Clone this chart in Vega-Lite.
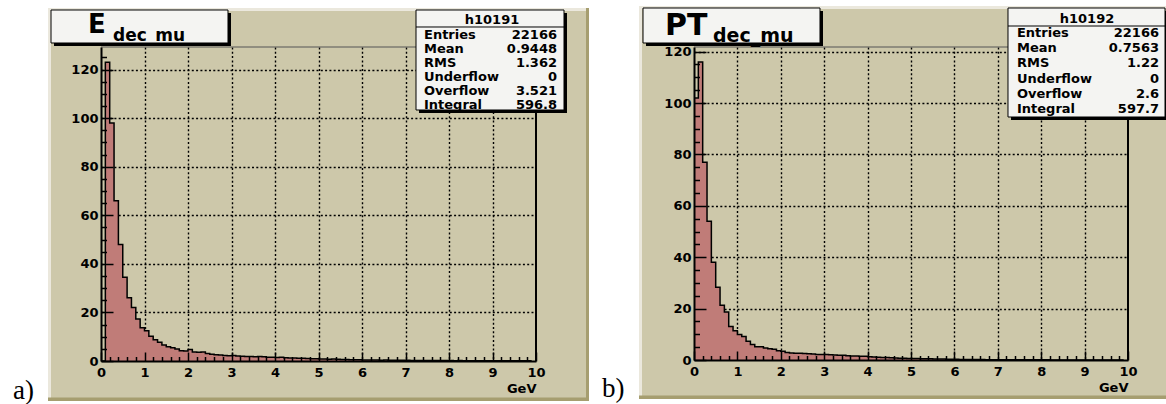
{
"$schema":"https://vega.github.io/schema/vega-lite/v6.json",
"background":"white",
"padding":{"left":12,"right":0,"top":6,"bottom":0},
"spacing":12,
"config":{"view":{"stroke":null}},
"datasets":{
"E":[{"lo":0,"n":0},{"lo":0.1,"n":123},{"lo":0.2,"n":98},{"lo":0.3,"n":66},{"lo":0.4,"n":48},{"lo":0.5,"n":34.5},{"lo":0.6,"n":26},{"lo":0.7,"n":22},{"lo":0.8,"n":17.3},{"lo":0.9,"n":13.7},
{"lo":1.0,"n":12.5},{"lo":1.1,"n":10.2},{"lo":1.2,"n":8.8},{"lo":1.3,"n":7.7},{"lo":1.4,"n":6.6},{"lo":1.5,"n":5.9},{"lo":1.6,"n":5.5},{"lo":1.7,"n":4.9},{"lo":1.8,"n":4.2},{"lo":1.9,"n":4.1},
{"lo":2.0,"n":4.7},{"lo":2.1,"n":3.7},{"lo":2.2,"n":3.6},{"lo":2.3,"n":3.7},{"lo":2.4,"n":3.1},{"lo":2.5,"n":2.8},{"lo":2.6,"n":2.6},{"lo":2.7,"n":2.5},{"lo":2.8,"n":2.3},{"lo":2.9,"n":2.2},
{"lo":3.0,"n":2.3},{"lo":3.1,"n":2.1},{"lo":3.2,"n":2.0},{"lo":3.3,"n":1.9},{"lo":3.4,"n":1.9},{"lo":3.5,"n":1.8},{"lo":3.6,"n":1.9},{"lo":3.7,"n":1.7},{"lo":3.8,"n":1.5},{"lo":3.9,"n":1.5},
{"lo":4.0,"n":1.4},{"lo":4.1,"n":1.5},{"lo":4.2,"n":1.3},{"lo":4.3,"n":1.2},{"lo":4.4,"n":1.2},{"lo":4.5,"n":1.1},{"lo":4.6,"n":1.1},{"lo":4.7,"n":1.0},{"lo":4.8,"n":0.9},{"lo":4.9,"n":0.9},
{"lo":5.0,"n":0.8},{"lo":5.1,"n":0.8},{"lo":5.2,"n":0.7},{"lo":5.3,"n":0.8},{"lo":5.4,"n":0.7},{"lo":5.5,"n":0.6},{"lo":5.6,"n":0.6},{"lo":5.7,"n":0.5},{"lo":5.8,"n":0.5},{"lo":5.9,"n":0.5},
{"lo":6.0,"n":0.4},{"lo":6.1,"n":0.4},{"lo":6.2,"n":0.4},{"lo":6.3,"n":0.4},{"lo":6.4,"n":0.3},{"lo":6.5,"n":0.4},{"lo":6.6,"n":0.3},{"lo":6.7,"n":0.3},{"lo":6.8,"n":0.3},{"lo":6.9,"n":0.3},
{"lo":7.0,"n":0.3},{"lo":7.1,"n":0.25},{"lo":7.2,"n":0.25},{"lo":7.3,"n":0.2},{"lo":7.4,"n":0.25},{"lo":7.5,"n":0.2},{"lo":7.6,"n":0.2},{"lo":7.7,"n":0.2},{"lo":7.8,"n":0.2},{"lo":7.9,"n":0.2},
{"lo":8.0,"n":0.2},{"lo":8.1,"n":0.15},{"lo":8.2,"n":0.2},{"lo":8.3,"n":0.15},{"lo":8.4,"n":0.15},{"lo":8.5,"n":0.15},{"lo":8.6,"n":0.15},{"lo":8.7,"n":0.1},{"lo":8.8,"n":0.15},{"lo":8.9,"n":0.1},
{"lo":9.0,"n":0.1},{"lo":9.1,"n":0.1},{"lo":9.2,"n":0.1},{"lo":9.3,"n":0.1},{"lo":9.4,"n":0.1},{"lo":9.5,"n":0.1},{"lo":9.6,"n":0.1},{"lo":9.7,"n":0.08},{"lo":9.8,"n":0.08},{"lo":9.9,"n":0.08}],
"PT":[{"lo":0,"n":102},{"lo":0.1,"n":116},{"lo":0.2,"n":77},{"lo":0.3,"n":54},{"lo":0.4,"n":38},{"lo":0.5,"n":28.3},{"lo":0.6,"n":21.3},{"lo":0.7,"n":18.7},{"lo":0.8,"n":13},{"lo":0.9,"n":11.4},
{"lo":1.0,"n":9.9},{"lo":1.1,"n":9.1},{"lo":1.2,"n":7.3},{"lo":1.3,"n":6},{"lo":1.4,"n":5.2},{"lo":1.5,"n":5.2},{"lo":1.6,"n":4.7},{"lo":1.7,"n":4.4},{"lo":1.8,"n":4.2},{"lo":1.9,"n":3.6},
{"lo":2.0,"n":3.4},{"lo":2.1,"n":2.9},{"lo":2.2,"n":2.7},{"lo":2.3,"n":2.6},{"lo":2.4,"n":2.6},{"lo":2.5,"n":2.5},{"lo":2.6,"n":2.4},{"lo":2.7,"n":2.3},{"lo":2.8,"n":2.1},{"lo":2.9,"n":2.1},
{"lo":3.0,"n":2.1},{"lo":3.1,"n":2.0},{"lo":3.2,"n":1.9},{"lo":3.3,"n":1.8},{"lo":3.4,"n":1.8},{"lo":3.5,"n":1.7},{"lo":3.6,"n":1.6},{"lo":3.7,"n":1.6},{"lo":3.8,"n":1.5},{"lo":3.9,"n":1.5},
{"lo":4.0,"n":1.3},{"lo":4.1,"n":1.2},{"lo":4.2,"n":1.1},{"lo":4.3,"n":1.0},{"lo":4.4,"n":1.0},{"lo":4.5,"n":0.9},{"lo":4.6,"n":0.8},{"lo":4.7,"n":0.7},{"lo":4.8,"n":0.7},{"lo":4.9,"n":0.6},
{"lo":5.0,"n":0.6},{"lo":5.1,"n":0.6},{"lo":5.2,"n":0.5},{"lo":5.3,"n":0.5},{"lo":5.4,"n":0.5},{"lo":5.5,"n":0.4},{"lo":5.6,"n":0.4},{"lo":5.7,"n":0.4},{"lo":5.8,"n":0.3},{"lo":5.9,"n":0.3},
{"lo":6.0,"n":0.25},{"lo":6.1,"n":0.2},{"lo":6.2,"n":0.2},{"lo":6.3,"n":0.2},{"lo":6.4,"n":0.15},{"lo":6.5,"n":0.15},{"lo":6.6,"n":0.15},{"lo":6.7,"n":0.1},{"lo":6.8,"n":0.1},{"lo":6.9,"n":0.1},
{"lo":7.0,"n":0.1},{"lo":7.1,"n":0.08},{"lo":7.2,"n":0.08},{"lo":7.3,"n":0.08},{"lo":7.4,"n":0.08},{"lo":7.5,"n":0.06},{"lo":7.6,"n":0.06},{"lo":7.7,"n":0.06},{"lo":7.8,"n":0.05},{"lo":7.9,"n":0.05},
{"lo":8.0,"n":0.05},{"lo":8.1,"n":0.05},{"lo":8.2,"n":0.04},{"lo":8.3,"n":0.04},{"lo":8.4,"n":0.04},{"lo":8.5,"n":0.04},{"lo":8.6,"n":0.03},{"lo":8.7,"n":0.03},{"lo":8.8,"n":0.03},{"lo":8.9,"n":0.03},
{"lo":9.0,"n":0.03},{"lo":9.1,"n":0.03},{"lo":9.2,"n":0.02},{"lo":9.3,"n":0.02},{"lo":9.4,"n":0.02},{"lo":9.5,"n":0.02},{"lo":9.6,"n":0.02},{"lo":9.7,"n":0.02},{"lo":9.8,"n":0.02},{"lo":9.9,"n":0.02}]
},
"hconcat":[
{"width":435,"height":314,
 "view":{"fill":"#cdc8aa","stroke":null},
 "resolve":{"axis":{"x":"independent","y":"independent"}},
 "layer":[
  {"data":{"name":"E"},"mark":{"type":"area","interpolate":"step-after","color":"#c07c78","opacity":1},
   "encoding":{"x":{"field":"lo","type":"quantitative","scale":{"domain":[0,10],"nice":false,"zero":false},"axis":{"orient":"bottom","values":[1,2,3,4,5,6,7,8,9],"grid":true,"gridColor":"black","gridDash":[2,2.3],"gridWidth":1.4,"domain":false,"ticks":false,"labels":false,"title":null,"zindex":0}},
   "y":{"field":"n","type":"quantitative","stack":null,"scale":{"domain":[0,129.3],"nice":false,"zero":false},"axis":{"orient":"left","values":[20,40,60,80,100,120],"grid":true,"gridColor":"black","gridDash":[2,2.3],"gridWidth":1.4,"domain":false,"ticks":false,"labels":false,"title":null,"zindex":0}}}},
  {"data":{"name":"E"},"mark":{"type":"line","interpolate":"step-after","color":"black","strokeWidth":1.5},
   "encoding":{"x":{"field":"lo","type":"quantitative","scale":{"domain":[0,10],"nice":false,"zero":false},"axis":{"orient":"bottom","values":[0,1,2,3,4,5,6,7,8,9,10],"format":"d","grid":false,"domainColor":"black","domainWidth":2,"tickColor":"black","tickWidth":1.5,"tickSize":-9,"labelFont":"DejaVu Sans","labelFontWeight":"bold","labelFontSize":13,"labelColor":"black","labelPadding":14,"labelFlush":false,"labelOverlap":false,"title":"GeV","titleFont":"DejaVu Sans","titleFontWeight":"bold","titleFontSize":13,"titleColor":"black","titleAnchor":"end","titlePadding":3,"zindex":1}},
   "y":{"field":"n","type":"quantitative","scale":{"domain":[0,129.3],"nice":false,"zero":false},"axis":{"orient":"left","values":[0,20,40,60,80,100,120],"format":"d","grid":false,"domainColor":"black","domainWidth":2,"tickColor":"black","tickWidth":1.5,"tickSize":-12,"labelFont":"DejaVu Sans","labelFontWeight":"bold","labelFontSize":13,"labelColor":"black","labelPadding":15,"labelFlush":false,"labelOverlap":false,"title":null,"zindex":1}}}},
  {"data":{"values":[{}]},"mark":{"type":"rect","fill":"#cdc8aa","clip":false},"encoding":{"x":{"datum":-1.2184,"type":"quantitative","scale":{"domain":[0,10],"nice":false,"zero":false},"axis":null},"x2":{"datum":0},"y":{"datum":-16.47,"type":"quantitative","scale":{"domain":[0,129.3],"nice":false,"zero":false},"axis":null},"y2":{"datum":145.36}}},
  {"data":{"values":[{}]},"mark":{"type":"rect","fill":"#cdc8aa","clip":false},"encoding":{"x":{"datum":10,"type":"quantitative","scale":{"domain":[0,10],"nice":false,"zero":false},"axis":null},"x2":{"datum":11.2184},"y":{"datum":-16.47,"type":"quantitative","scale":{"domain":[0,129.3],"nice":false,"zero":false},"axis":null},"y2":{"datum":145.36}}},
  {"data":{"values":[{}]},"mark":{"type":"rect","fill":"#cdc8aa","clip":false},"encoding":{"x":{"datum":0,"type":"quantitative","scale":{"domain":[0,10],"nice":false,"zero":false},"axis":null},"x2":{"datum":10},"y":{"datum":129.3,"type":"quantitative","scale":{"domain":[0,129.3],"nice":false,"zero":false},"axis":null},"y2":{"datum":145.36}}},
  {"data":{"values":[{}]},"mark":{"type":"rect","fill":"#cdc8aa","clip":false},"encoding":{"x":{"datum":0,"type":"quantitative","scale":{"domain":[0,10],"nice":false,"zero":false},"axis":null},"x2":{"datum":10},"y":{"datum":-16.47,"type":"quantitative","scale":{"domain":[0,129.3],"nice":false,"zero":false},"axis":null},"y2":{"datum":0}}},
  {"data":{"values":[{}]},"mark":{"type":"rect","fill":"#ebe8dd","clip":false},"encoding":{"x":{"datum":-1.2184,"type":"quantitative","scale":{"domain":[0,10],"nice":false,"zero":false},"axis":null},"x2":{"datum":-1.1494},"y":{"datum":-16.47,"type":"quantitative","scale":{"domain":[0,129.3],"nice":false,"zero":false},"axis":null},"y2":{"datum":145.36}}},
  {"data":{"values":[{}]},"mark":{"type":"rect","fill":"#ebe8dd","clip":false},"encoding":{"x":{"datum":-1.2184,"type":"quantitative","scale":{"domain":[0,10],"nice":false,"zero":false},"axis":null},"x2":{"datum":11.2184},"y":{"datum":144.12,"type":"quantitative","scale":{"domain":[0,129.3],"nice":false,"zero":false},"axis":null},"y2":{"datum":145.36}}},
  {"data":{"values":[{}]},"mark":{"type":"rect","fill":"#a69e70","clip":false},"encoding":{"x":{"datum":11.1494,"type":"quantitative","scale":{"domain":[0,10],"nice":false,"zero":false},"axis":null},"x2":{"datum":11.2184},"y":{"datum":-16.47,"type":"quantitative","scale":{"domain":[0,129.3],"nice":false,"zero":false},"axis":null},"y2":{"datum":145.36}}},
  {"data":{"values":[{}]},"mark":{"type":"rect","fill":"#a69e70","clip":false},"encoding":{"x":{"datum":-1.2184,"type":"quantitative","scale":{"domain":[0,10],"nice":false,"zero":false},"axis":null},"x2":{"datum":11.2184},"y":{"datum":-16.47,"type":"quantitative","scale":{"domain":[0,129.3],"nice":false,"zero":false},"axis":null},"y2":{"datum":-15.03}}},
  {"data":{"values":[{}]},"mark":{"type":"text","font":"Liberation Serif","fontSize":27,"align":"left","baseline":"alphabetic","color":"black","clip":false},"encoding":{"text":{"value":"a)"},"x":{"datum":-2.023,"type":"quantitative","scale":{"domain":[0,10],"nice":false,"zero":false},"axis":null},"y":{"datum":-15.648,"type":"quantitative","scale":{"domain":[0,129.3],"nice":false,"zero":false},"axis":null}}},
  {"data":{"values":[{}]},"mark":{"type":"rule","color":"#555555","strokeWidth":1,"clip":false},"encoding":{"x":{"datum":0,"type":"quantitative","scale":{"domain":[0,10],"nice":false,"zero":false},"axis":null},"x2":{"datum":10},"y":{"datum":129.3,"type":"quantitative","scale":{"domain":[0,129.3],"nice":false,"zero":false},"axis":null}}},
  {"data":{"values":[{}]},"mark":{"type":"rule","color":"black","strokeWidth":2,"clip":false},
   "encoding":{"x":{"datum":10,"type":"quantitative","scale":{"domain":[0,10],"nice":false,"zero":false},"axis":{"orient":"bottom","values":[0.2,0.4,0.6,0.8,1.2,1.4,1.6,1.8,2.2,2.4,2.6,2.8,3.2,3.4,3.6,3.8,4.2,4.4,4.6,4.8,5.2,5.4,5.6,5.8,6.2,6.4,6.6,6.8,7.2,7.4,7.6,7.8,8.2,8.4,8.6,8.8,9.2,9.4,9.6,9.8],"grid":false,"domain":false,"labels":false,"tickColor":"black","tickWidth":1.5,"tickSize":-4.5,"title":null,"zindex":1}},
   "y":{"datum":0,"type":"quantitative","scale":{"domain":[0,129.3],"nice":false,"zero":false},"axis":{"orient":"left","values":[5,10,15,25,30,35,45,50,55,65,70,75,85,90,95,105,110,115,125],"grid":false,"domain":false,"labels":false,"tickColor":"black","tickWidth":1.5,"tickSize":-5.5,"title":null,"zindex":1}},
   "y2":{"datum":129.3}}},
  {"data":{"values":[{}]},"mark":{"type":"rect","fill":"black","clip":false},"encoding":{"x":{"datum":-1.0805,"type":"quantitative","scale":{"domain":[0,10],"nice":false,"zero":false},"axis":null},"x2":{"datum":2.9885},"y":{"datum":129.71,"type":"quantitative","scale":{"domain":[0,129.3],"nice":false,"zero":false},"axis":null},"y2":{"datum":143.30}}},
  {"data":{"values":[{}]},"mark":{"type":"rect","fill":"#f4f4f2","stroke":"black","strokeWidth":1,"clip":false},"encoding":{"x":{"datum":-1.1494,"type":"quantitative","scale":{"domain":[0,10],"nice":false,"zero":false},"axis":null},"x2":{"datum":2.9195},"y":{"datum":130.95,"type":"quantitative","scale":{"domain":[0,129.3],"nice":false,"zero":false},"axis":null},"y2":{"datum":144.54}}},
  {"data":{"values":[{}]},"mark":{"type":"text","font":"DejaVu Sans","fontWeight":"bold","fontSize":26,"align":"left","baseline":"alphabetic","color":"black","clip":false},"encoding":{"text":{"value":"E"},"x":{"datum":-0.2989,"type":"quantitative","scale":{"domain":[0,10],"nice":false,"zero":false},"axis":null},"y":{"datum":135.27,"type":"quantitative","scale":{"domain":[0,129.3],"nice":false,"zero":false},"axis":null}}},
  {"data":{"values":[{}]},"mark":{"type":"text","font":"DejaVu Sans","fontWeight":"bold","fontSize":17,"align":"left","baseline":"alphabetic","color":"black","clip":false},"encoding":{"text":{"value":"dec_mu"},"x":{"datum":0.2759,"type":"quantitative","scale":{"domain":[0,10],"nice":false,"zero":false},"axis":null},"y":{"datum":131.77,"type":"quantitative","scale":{"domain":[0,129.3],"nice":false,"zero":false},"axis":null}}},
  {"data":{"values":[{}]},"mark":{"type":"rect","fill":"black","clip":false},"encoding":{"x":{"datum":7.3103,"type":"quantitative","scale":{"domain":[0,10],"nice":false,"zero":false},"axis":null},"x2":{"datum":10.7126},"y":{"datum":102.12,"type":"quantitative","scale":{"domain":[0,129.3],"nice":false,"zero":false},"axis":null},"y2":{"datum":143.30}}},
  {"data":{"values":[{}]},"mark":{"type":"rect","fill":"#f4f4f2","stroke":"black","strokeWidth":1,"clip":false},"encoding":{"x":{"datum":7.2414,"type":"quantitative","scale":{"domain":[0,10],"nice":false,"zero":false},"axis":null},"x2":{"datum":10.6437},"y":{"datum":103.36,"type":"quantitative","scale":{"domain":[0,129.3],"nice":false,"zero":false},"axis":null},"y2":{"datum":144.54}}},
  {"data":{"values":[{}]},"mark":{"type":"rule","color":"black","strokeWidth":1,"clip":false},"encoding":{"x":{"datum":7.2414,"type":"quantitative","scale":{"domain":[0,10],"nice":false,"zero":false},"axis":null},"x2":{"datum":10.6437},"y":{"datum":137.54,"type":"quantitative","scale":{"domain":[0,129.3],"nice":false,"zero":false},"axis":null}}},
  {"data":{"values":[{}]},"mark":{"type":"text","font":"DejaVu Sans","fontWeight":"bold","fontSize":13,"align":"center","baseline":"alphabetic","color":"black","clip":false},"encoding":{"text":{"value":"h10191"},"x":{"datum":8.9885,"type":"quantitative","scale":{"domain":[0,10],"nice":false,"zero":false},"axis":null},"y":{"datum":138.77,"type":"quantitative","scale":{"domain":[0,129.3],"nice":false,"zero":false},"axis":null}}},
  {"data":{"values":[{}]},"mark":{"type":"text","font":"DejaVu Sans","fontWeight":"bold","fontSize":13,"align":"left","baseline":"alphabetic","lineHeight":14,"color":"black","clip":false},"encoding":{"text":{"value":["Entries","Mean","RMS","Underflow","Overflow","Integral"]},"x":{"datum":7.4253,"type":"quantitative","scale":{"domain":[0,10],"nice":false,"zero":false},"axis":null},"y":{"datum":132.59,"type":"quantitative","scale":{"domain":[0,129.3],"nice":false,"zero":false},"axis":null}}},
  {"data":{"values":[{}]},"mark":{"type":"text","font":"DejaVu Sans","fontWeight":"bold","fontSize":13,"align":"right","baseline":"alphabetic","lineHeight":14,"color":"black","clip":false},"encoding":{"text":{"value":["22166","0.9448","1.362","0","3.521","596.8"]},"x":{"datum":10.4828,"type":"quantitative","scale":{"domain":[0,10],"nice":false,"zero":false},"axis":null},"y":{"datum":132.59,"type":"quantitative","scale":{"domain":[0,129.3],"nice":false,"zero":false},"axis":null}}}
 ]},
{"width":434,"height":313,
 "view":{"fill":"#cdc8aa","stroke":null},
 "resolve":{"axis":{"x":"independent","y":"independent"}},
 "layer":[
  {"data":{"name":"PT"},"mark":{"type":"area","interpolate":"step-after","color":"#c07c78","opacity":1},
   "encoding":{"x":{"field":"lo","type":"quantitative","scale":{"domain":[0,10],"nice":false,"zero":false},"axis":{"orient":"bottom","values":[1,2,3,4,5,6,7,8,9],"grid":true,"gridColor":"black","gridDash":[2,2.3],"gridWidth":1.4,"domain":false,"ticks":false,"labels":false,"title":null,"zindex":0}},
   "y":{"field":"n","type":"quantitative","stack":null,"scale":{"domain":[0,121.8],"nice":false,"zero":false},"axis":{"orient":"left","values":[20,40,60,80,100,120],"grid":true,"gridColor":"black","gridDash":[2,2.3],"gridWidth":1.4,"domain":false,"ticks":false,"labels":false,"title":null,"zindex":0}}}},
  {"data":{"name":"PT"},"mark":{"type":"line","interpolate":"step-after","color":"black","strokeWidth":1.5},
   "encoding":{"x":{"field":"lo","type":"quantitative","scale":{"domain":[0,10],"nice":false,"zero":false},"axis":{"orient":"bottom","values":[0,1,2,3,4,5,6,7,8,9,10],"format":"d","grid":false,"domainColor":"black","domainWidth":2,"tickColor":"black","tickWidth":1.5,"tickSize":-9,"labelFont":"DejaVu Sans","labelFontWeight":"bold","labelFontSize":13,"labelColor":"black","labelPadding":14,"labelFlush":false,"labelOverlap":false,"title":"GeV","titleFont":"DejaVu Sans","titleFontWeight":"bold","titleFontSize":13,"titleColor":"black","titleAnchor":"end","titlePadding":3,"zindex":1}},
   "y":{"field":"n","type":"quantitative","scale":{"domain":[0,121.8],"nice":false,"zero":false},"axis":{"orient":"left","values":[0,20,40,60,80,100,120],"format":"d","grid":false,"domainColor":"black","domainWidth":2,"tickColor":"black","tickWidth":1.5,"tickSize":-12,"labelFont":"DejaVu Sans","labelFontWeight":"bold","labelFontSize":13,"labelColor":"black","labelPadding":15,"labelFlush":false,"labelOverlap":false,"title":null,"zindex":1}}}},
  {"data":{"values":[{}]},"mark":{"type":"rect","fill":"#cdc8aa","clip":false},"encoding":{"x":{"datum":-1.2673,"type":"quantitative","scale":{"domain":[0,10],"nice":false,"zero":false},"axis":null},"x2":{"datum":0},"y":{"datum":-15.18,"type":"quantitative","scale":{"domain":[0,121.8],"nice":false,"zero":false},"axis":null},"y2":{"datum":137.75}}},
  {"data":{"values":[{}]},"mark":{"type":"rect","fill":"#cdc8aa","clip":false},"encoding":{"x":{"datum":10,"type":"quantitative","scale":{"domain":[0,10],"nice":false,"zero":false},"axis":null},"x2":{"datum":10.9217},"y":{"datum":-15.18,"type":"quantitative","scale":{"domain":[0,121.8],"nice":false,"zero":false},"axis":null},"y2":{"datum":137.75}}},
  {"data":{"values":[{}]},"mark":{"type":"rect","fill":"#cdc8aa","clip":false},"encoding":{"x":{"datum":0,"type":"quantitative","scale":{"domain":[0,10],"nice":false,"zero":false},"axis":null},"x2":{"datum":10},"y":{"datum":121.8,"type":"quantitative","scale":{"domain":[0,121.8],"nice":false,"zero":false},"axis":null},"y2":{"datum":137.75}}},
  {"data":{"values":[{}]},"mark":{"type":"rect","fill":"#cdc8aa","clip":false},"encoding":{"x":{"datum":0,"type":"quantitative","scale":{"domain":[0,10],"nice":false,"zero":false},"axis":null},"x2":{"datum":10},"y":{"datum":-15.18,"type":"quantitative","scale":{"domain":[0,121.8],"nice":false,"zero":false},"axis":null},"y2":{"datum":0}}},
  {"data":{"values":[{}]},"mark":{"type":"rect","fill":"#ebe8dd","clip":false},"encoding":{"x":{"datum":-1.2673,"type":"quantitative","scale":{"domain":[0,10],"nice":false,"zero":false},"axis":null},"x2":{"datum":-1.1982},"y":{"datum":-15.18,"type":"quantitative","scale":{"domain":[0,121.8],"nice":false,"zero":false},"axis":null},"y2":{"datum":137.75}}},
  {"data":{"values":[{}]},"mark":{"type":"rect","fill":"#ebe8dd","clip":false},"encoding":{"x":{"datum":-1.2673,"type":"quantitative","scale":{"domain":[0,10],"nice":false,"zero":false},"axis":null},"x2":{"datum":10.9217},"y":{"datum":136.58,"type":"quantitative","scale":{"domain":[0,121.8],"nice":false,"zero":false},"axis":null},"y2":{"datum":137.75}}},
  {"data":{"values":[{}]},"mark":{"type":"rect","fill":"#a69e70","clip":false},"encoding":{"x":{"datum":-1.2673,"type":"quantitative","scale":{"domain":[0,10],"nice":false,"zero":false},"axis":null},"x2":{"datum":10.9217},"y":{"datum":-15.18,"type":"quantitative","scale":{"domain":[0,121.8],"nice":false,"zero":false},"axis":null},"y2":{"datum":-13.82}}},
  {"data":{"values":[{}]},"mark":{"type":"text","font":"Liberation Serif","fontSize":27,"align":"left","baseline":"alphabetic","color":"black","clip":false},"encoding":{"text":{"value":"b)"},"x":{"datum":-2.1198,"type":"quantitative","scale":{"domain":[0,10],"nice":false,"zero":false},"axis":null},"y":{"datum":-14.398,"type":"quantitative","scale":{"domain":[0,121.8],"nice":false,"zero":false},"axis":null}}},
  {"data":{"values":[{}]},"mark":{"type":"rule","color":"#555555","strokeWidth":1,"clip":false},"encoding":{"x":{"datum":0,"type":"quantitative","scale":{"domain":[0,10],"nice":false,"zero":false},"axis":null},"x2":{"datum":10},"y":{"datum":121.8,"type":"quantitative","scale":{"domain":[0,121.8],"nice":false,"zero":false},"axis":null}}},
  {"data":{"values":[{}]},"mark":{"type":"rule","color":"black","strokeWidth":2,"clip":false},
   "encoding":{"x":{"datum":10,"type":"quantitative","scale":{"domain":[0,10],"nice":false,"zero":false},"axis":{"orient":"bottom","values":[0.2,0.4,0.6,0.8,1.2,1.4,1.6,1.8,2.2,2.4,2.6,2.8,3.2,3.4,3.6,3.8,4.2,4.4,4.6,4.8,5.2,5.4,5.6,5.8,6.2,6.4,6.6,6.8,7.2,7.4,7.6,7.8,8.2,8.4,8.6,8.8,9.2,9.4,9.6,9.8],"grid":false,"domain":false,"labels":false,"tickColor":"black","tickWidth":1.5,"tickSize":-4.5,"title":null,"zindex":1}},
   "y":{"datum":0,"type":"quantitative","scale":{"domain":[0,121.8],"nice":false,"zero":false},"axis":{"orient":"left","values":[5,10,15,25,30,35,45,50,55,65,70,75,85,90,95,105,110,115],"grid":false,"domain":false,"labels":false,"tickColor":"black","tickWidth":1.5,"tickSize":-5.5,"title":null,"zindex":1}},
   "y2":{"datum":121.8}}},
  {"data":{"values":[{}]},"mark":{"type":"rect","fill":"black","clip":false},"encoding":{"x":{"datum":-1.106,"type":"quantitative","scale":{"domain":[0,10],"nice":false,"zero":false},"axis":null},"x2":{"datum":2.9724},"y":{"datum":122.19,"type":"quantitative","scale":{"domain":[0,121.8],"nice":false,"zero":false},"axis":null},"y2":{"datum":135.81}}},
  {"data":{"values":[{}]},"mark":{"type":"rect","fill":"#f4f4f2","stroke":"black","strokeWidth":1,"clip":false},"encoding":{"x":{"datum":-1.1751,"type":"quantitative","scale":{"domain":[0,10],"nice":false,"zero":false},"axis":null},"x2":{"datum":2.9032},"y":{"datum":123.36,"type":"quantitative","scale":{"domain":[0,121.8],"nice":false,"zero":false},"axis":null},"y2":{"datum":136.98}}},
  {"data":{"values":[{}]},"mark":{"type":"text","font":"DejaVu Sans","fontWeight":"bold","fontSize":30,"align":"left","baseline":"alphabetic","color":"black","clip":false},"encoding":{"text":{"value":"PT"},"x":{"datum":-0.6682,"type":"quantitative","scale":{"domain":[0,10],"nice":false,"zero":false},"axis":null},"y":{"datum":126.47,"type":"quantitative","scale":{"domain":[0,121.8],"nice":false,"zero":false},"axis":null}}},
  {"data":{"values":[{}]},"mark":{"type":"text","font":"DejaVu Sans","fontWeight":"bold","fontSize":19,"align":"left","baseline":"alphabetic","color":"black","clip":false},"encoding":{"text":{"value":"dec_mu"},"x":{"datum":0.4378,"type":"quantitative","scale":{"domain":[0,10],"nice":false,"zero":false},"axis":null},"y":{"datum":123.75,"type":"quantitative","scale":{"domain":[0,121.8],"nice":false,"zero":false},"axis":null}}},
  {"data":{"values":[{}]},"mark":{"type":"rect","fill":"black","clip":false},"encoding":{"x":{"datum":7.3041,"type":"quantitative","scale":{"domain":[0,10],"nice":false,"zero":false},"axis":null},"x2":{"datum":10.9217},"y":{"datum":93.39,"type":"quantitative","scale":{"domain":[0,121.8],"nice":false,"zero":false},"axis":null},"y2":{"datum":135.81}}},
  {"data":{"values":[{}]},"mark":{"type":"rect","fill":"#f4f4f2","stroke":"black","strokeWidth":1,"clip":false},"encoding":{"x":{"datum":7.235,"type":"quantitative","scale":{"domain":[0,10],"nice":false,"zero":false},"axis":null},"x2":{"datum":10.853},"y":{"datum":94.56,"type":"quantitative","scale":{"domain":[0,121.8],"nice":false,"zero":false},"axis":null},"y2":{"datum":136.98}}},
  {"data":{"values":[{}]},"mark":{"type":"rule","color":"black","strokeWidth":1,"clip":false},"encoding":{"x":{"datum":7.235,"type":"quantitative","scale":{"domain":[0,10],"nice":false,"zero":false},"axis":null},"x2":{"datum":10.853},"y":{"datum":129.97,"type":"quantitative","scale":{"domain":[0,121.8],"nice":false,"zero":false},"axis":null}}},
  {"data":{"values":[{}]},"mark":{"type":"text","font":"DejaVu Sans","fontWeight":"bold","fontSize":13,"align":"center","baseline":"alphabetic","color":"black","clip":false},"encoding":{"text":{"value":"h10192"},"x":{"datum":9.0553,"type":"quantitative","scale":{"domain":[0,10],"nice":false,"zero":false},"axis":null},"y":{"datum":131.26,"type":"quantitative","scale":{"domain":[0,121.8],"nice":false,"zero":false},"axis":null}}},
  {"data":{"values":[{}]},"mark":{"type":"text","font":"DejaVu Sans","fontWeight":"bold","fontSize":13,"align":"left","baseline":"alphabetic","lineHeight":15.2,"color":"black","clip":false},"encoding":{"text":{"value":["Entries","Mean","RMS","Underflow","Overflow","Integral"]},"x":{"datum":7.442,"type":"quantitative","scale":{"domain":[0,10],"nice":false,"zero":false},"axis":null},"y":{"datum":125.69,"type":"quantitative","scale":{"domain":[0,121.8],"nice":false,"zero":false},"axis":null}}},
  {"data":{"values":[{}]},"mark":{"type":"text","font":"DejaVu Sans","fontWeight":"bold","fontSize":13,"align":"right","baseline":"alphabetic","lineHeight":15.2,"color":"black","clip":false},"encoding":{"text":{"value":["22166","0.7563","1.22","0","2.6","597.7"]},"x":{"datum":10.714,"type":"quantitative","scale":{"domain":[0,10],"nice":false,"zero":false},"axis":null},"y":{"datum":125.69,"type":"quantitative","scale":{"domain":[0,121.8],"nice":false,"zero":false},"axis":null}}}
 ]}
]
}
